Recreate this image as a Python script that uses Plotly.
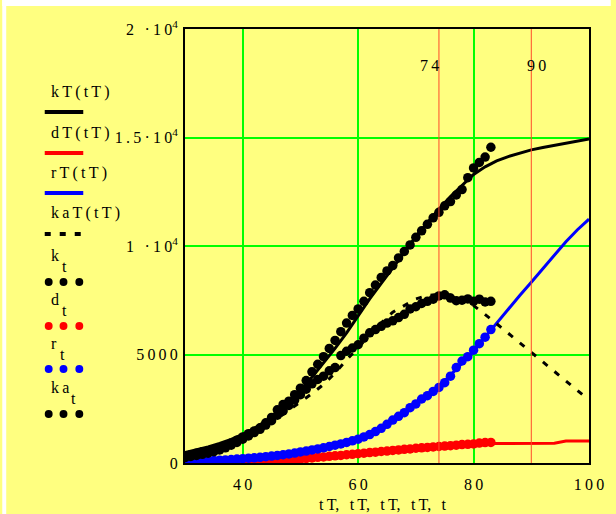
import plotly.graph_objects as go

FONT = 'Liberation Serif, Times New Roman, serif'
YELLOW = '#FFFF80'
GRID = '#00FF00'
MARK = '#FF4A2A'
FS = 16

# model curves, sampled on tT
tT = [30, 32, 34, 36, 38, 40, 42, 44, 46, 48, 50, 52, 54, 56, 58, 60, 62, 64,
      66, 68, 70, 72, 74, 76, 78, 80, 82, 84, 86, 88, 90, 92, 94, 96, 98, 100]
kT = [480, 600, 740, 900, 1090, 1320, 1600, 1930, 2300, 2800, 3350, 3950, 4600,
      5280, 6000, 6800, 7560, 8280, 8980, 9700, 10440, 11080, 11700, 12280, 12810,
      13300, 13650, 13920, 14120, 14290, 14430, 14540, 14640, 14740, 14840, 14930]
dT = [0, 0, 0, 0, 10, 20, 40, 60, 100, 140, 180, 230, 280, 330, 380, 430, 480, 530,
      580, 630, 680, 720, 760, 800, 840, 880, 900, 900, 900, 900, 900, 900, 910,
      1010, 1010, 1010]
rT = [40, 70, 100, 130, 165, 200, 240, 290, 350, 420, 510, 600, 700, 820, 950, 1100,
      1300, 1600, 2000, 2350, 2750, 3150, 3550, 4050, 4600, 5150, 5800, 6450, 7100,
      7720, 8330, 8950, 9600, 10200, 10750, 11240]
kaT = [300, 380, 520, 700, 900, 1130, 1400, 1700, 2050, 2420, 2800, 3200, 3620, 4150,
       4750, 5330, 5900, 6460, 6950, 7250, 7560, 7720, 7780, 7740, 7560, 7260, 6860,
       6420, 5980, 5540, 5100, 4660, 4220, 3780, 3340, 2900]

# observed daily values
t = [30, 31, 32, 33, 34, 35, 36, 37, 38, 39, 40, 41, 42, 43, 44, 45, 46, 47, 48,
     49, 50, 51, 52, 53, 54, 55, 56, 57, 58, 59, 60, 61, 62, 63, 64, 65, 66, 67,
     68, 69, 70, 71, 72, 73, 74, 75, 76, 77, 78, 79, 80, 81, 82, 83]
k = [300, 380, 450, 520, 560, 600, 700, 800, 920, 1050, 1200, 1350, 1480, 1620, 1850,
     2100, 2450, 2700, 2850, 3150, 3450, 3800, 4200, 4550, 4900, 5280, 5650, 6050,
     6450, 6800, 7100, 7450, 7850, 8200, 8550, 8850, 9100, 9450, 9750, 10050, 10400,
     10700, 11000, 11300, 11550, 11850, 12050, 12350, 12600, 13150, 13600, 13850,
     14100, 14550]
d = [0, 0, 0, 0, 0, 0, 0, 0, 0, 0, 10, 20, 30, 40, 60, 80, 100, 120, 140, 160, 180,
     210, 230, 260, 280, 310, 330, 350, 380, 400, 430, 450, 480, 500, 530, 550, 580,
     600, 630, 650, 680, 700, 720, 740, 760, 780, 800, 820, 850, 860, 880, 920, 940, 950]
r = [30, 40, 60, 70, 90, 110, 130, 140, 160, 180, 200, 220, 240, 260, 290, 320, 350,
     380, 420, 460, 510, 550, 600, 650, 700, 760, 820, 880, 950, 1020, 1100, 1200,
     1310, 1450, 1600, 1780, 1980, 2150, 2320, 2550, 2720, 2950, 3100, 3300, 3480,
     3700, 4000, 4400, 4700, 4900, 5200, 5500, 5800, 6150]
ka = [250, 300, 350, 400, 450, 520, 600, 700, 820, 950, 1100, 1250, 1400, 1550, 1750,
      1950, 2200, 2400, 2650, 2900, 3150, 3400, 3650, 3850, 4000, 4250, 4400, 4950,
      5150, 5300, 5450, 5750, 6000, 6150, 6300, 6450, 6550, 6700, 6850, 7100, 7200,
      7350, 7450, 7550, 7700, 7750, 7600, 7480, 7500, 7560, 7450, 7550, 7420, 7450]

MARKERS = [74, 90]
MARKER_LABELS = ['74', '90']
XTICKS = [40, 60, 80, 100]
YTICKS = [0, 5000, 10000, 15000, 20000]

# plot box in pixels
L, R, TOP, BOT, W, H = 185, 594, 29, 463, 616, 514


def sp(s):
    # Mathcad spreads its glyphs out; mimic with thin spaces
    return '\u2009'.join(s)


def px(x, y):
    return (x - L) / (R - L), (BOT - y) / (BOT - TOP)


YTICKTEXT = [sp('0'), sp('5000'), sp('1 ·10') + '<sup>4</sup>',
             sp('1.5·10') + '<sup>4</sup>', sp('2 ·10') + '<sup>4</sup>']

fig = go.Figure()
for ys, col, dash in [(kT, 'black', 'solid'), (dT, '#FF0000', 'solid'),
                      (rT, '#0000FF', 'solid'), (kaT, 'black', '6px,9px')]:
    fig.add_trace(go.Scatter(x=tT, y=ys, mode='lines',
                             line=dict(color=col, width=3, dash=dash)))
for ys, col in [(k, 'black'), (d, '#FF0000'), (r, '#0000FF'), (ka, 'black')]:
    fig.add_trace(go.Scatter(x=t, y=ys, mode='markers',
                             marker=dict(color=col, size=9.5, line=dict(width=0))))

for xv, lab, dx in zip(MARKERS, MARKER_LABELS, [-1.6, 0.9]):
    fig.add_vline(x=xv, line=dict(color=MARK, width=1))
    fig.add_annotation(x=xv + dx, y=18340, text=sp(lab), showarrow=False,
                       font=dict(size=FS, color='black'))

shapes = []
ann = []
# white strips at the top and left of the page
x0, y0 = px(0, 0); x1, y1 = px(4, H)
shapes.append(dict(type='rect', xref='paper', yref='paper', x0=x0, x1=x1, y0=y1, y1=y0,
                   fillcolor='white', line=dict(width=0), layer='below'))
x0, y0 = px(0, 0); x1, y1 = px(W, 6)
shapes.append(dict(type='rect', xref='paper', yref='paper', x0=x0, x1=x1, y0=y1, y1=y0,
                   fillcolor='white', line=dict(width=0), layer='below'))


def label(text, x, y, anchor='left'):
    ax, ay = px(x, y)
    ann.append(dict(x=ax, y=ay, xref='paper', yref='paper', text=text, showarrow=False,
                    xanchor=anchor, yanchor='middle', font=dict(size=FS, color='black')))


# Mathcad-style legend: label above, sample below
LEG_LINES = [('kT(tT)', 'black', 'solid', 92, 112), ('dT(tT)', '#FF0000', 'solid', 133, 153),
             ('rT(tT)', '#0000FF', 'solid', 173, 193), ('kaT(tT)', 'black', 'dash', 213, 234)]
for lab, col, dash, ty, sy in LEG_LINES:
    label(sp(lab), 47, ty)
    a0, b0 = px(43, sy); a1, _ = px(82, sy)
    shapes.append(dict(type='line', xref='paper', yref='paper', x0=a0, x1=a1, y0=b0, y1=b0,
                       line=dict(color=col, width=4, dash='6px,9px' if dash == 'dash' else 'solid')))

# name, colour, subscript x, text y, dots y
LEG_DOTS = [('k', 'black', 58, 255, 282), ('d', '#FF0000', 58, 299, 326),
            ('r', '#0000FF', 56, 343, 369), ('ka', 'black', 68, 387, 414)]
for lab, col, subx, ty, sy in LEG_DOTS:
    label(sp(lab), 47, ty)
    label('t', subx, ty + 11)
    for cx in [47, 62, 78]:
        a0, b0 = px(cx - 4, sy - 4); a1, b1 = px(cx + 4, sy + 4)
        shapes.append(dict(type='circle', xref='paper', yref='paper', x0=a0, x1=a1, y0=b1, y1=b0,
                           fillcolor=col, line=dict(width=0)))

label(',\u2009 \u2009'.join(sp(s) for s in ['tT', 'tT', 'tT', 'tT', 't']), 385, 504, 'center')

fig.update_layout(
    width=W, height=H, autosize=False, showlegend=False,
    paper_bgcolor=YELLOW, plot_bgcolor=YELLOW,
    font=dict(family=FONT, size=FS, color='black'),
    margin=dict(l=L, r=W - R, t=TOP, b=H - BOT, pad=0),
    shapes=list(fig.layout.shapes) + shapes,
    annotations=list(fig.layout.annotations) + ann,
)
fig.update_xaxes(range=[30, 100], tickvals=XTICKS, ticktext=[sp(str(v)) for v in XTICKS],
                 showgrid=True, gridcolor=GRID,
                 gridwidth=2, zeroline=False, showline=True, mirror=True,
                 linecolor='black', linewidth=2, ticks='', ticklabelstandoff=6,
                 tickfont=dict(size=FS))
fig.update_yaxes(range=[0, 20000], tickvals=YTICKS, ticktext=YTICKTEXT, showgrid=True,
                 gridcolor=GRID, gridwidth=2, zeroline=False, showline=True, mirror=True,
                 linecolor='black', linewidth=2, ticks='', ticklabelstandoff=2,
                 tickfont=dict(size=FS))

fig.write_html("out.html", config={'displayModeBar': False},
               post_script="document.body.style.margin='0';document.body.style.overflow='hidden';")
